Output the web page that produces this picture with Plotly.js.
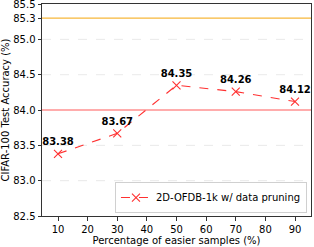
<!DOCTYPE html>
<html>
<head>
<meta charset="utf-8">
<script src="https://cdn.plot.ly/plotly-3.0.1.min.js"></script>
<style>html,body{margin:0;padding:0;background:#fff;}#chart{width:314px;height:247px;}</style>
</head>
<body>
<div id="chart"></div>
<script>
const percentages = [10, 30, 50, 70, 90];
const accuracy = [83.38, 83.67, 84.35, 84.26, 84.12];
const pointLabels = ['83.38', '83.67', '84.35', '84.26', '84.12'];
const seriesName = '2D-OFDB-1k w/ data pruning';
const yTickVals = [82.5, 83.0, 83.5, 84.0, 84.5, 85.0, 85.3, 85.5];
const yTickText = ['82.5', '83.0', '83.5', '84.0', '84.5', '85.0', '85.3', '85.5'];
const yGridVals = [83.0, 83.5, 84.5, 85.0];
const xTickVals = [10, 20, 30, 40, 50, 60, 70, 80, 90];
const refOrange = 85.3;
const refRed = 84.0;

const font = {family: 'DejaVu Sans, sans-serif', size: 10, color: '#000'};

const trace = {
  x: percentages, y: accuracy, name: seriesName,
  mode: 'lines+markers+text',
  text: pointLabels, textposition: 'top center',
  textfont: {family: 'DejaVu Sans, sans-serif', size: 10, color: '#000', weight: 'bold'},
  line: {color: '#ff3030', width: 1.1, dash: 'dash'},
  marker: {symbol: 'x-thin', size: 8, line: {color: '#ff3030', width: 1.1}, color: '#ff3030'},
  cliponaxis: false
};

const shapes = yGridVals.map(v => ({type: 'line', xref: 'paper', x0: 0, x1: 1, yref: 'y', y0: v, y1: v,
  line: {color: '#e3e3e3', width: 0.8, dash: 'dash'}, layer: 'below'}));
shapes.push({type: 'line', xref: 'paper', x0: 0, x1: 1, yref: 'y', y0: refOrange, y1: refOrange,
  line: {color: '#f7b73a', width: 1.2}, layer: 'below'});
shapes.push({type: 'line', xref: 'paper', x0: 0, x1: 1, yref: 'y', y0: refRed, y1: refRed,
  line: {color: '#ff5a5a', width: 1.2}, layer: 'below'});

const layout = {
  width: 314, height: 247,
  margin: {l: 42, r: 3, t: 4, b: 31},
  paper_bgcolor: '#fff', plot_bgcolor: '#fff',
  font: font,
  showlegend: true,
  legend: {x: 0.985, y: 0.014, xanchor: 'right', yanchor: 'bottom',
           bordercolor: '#d0d0d0', borderwidth: 1, bgcolor: '#fff',
           font: {family: 'DejaVu Sans, sans-serif', size: 10, color: '#000'}},
  xaxis: {range: [4.6, 95.4], tickvals: xTickVals, ticks: 'outside', ticklen: 3.5,
          tickcolor: '#333', showline: true, mirror: true, linecolor: '#333', linewidth: 1,
          showgrid: false, zeroline: false, tickfont: font,
          title: {text: 'Percentage of easier samples (%)', font: font, standoff: 3}},
  yaxis: {range: [82.5, 85.5005], tickvals: yTickVals, ticktext: yTickText, ticks: 'outside', ticklen: 3.5,
          tickcolor: '#333', showline: true, mirror: true, linecolor: '#333', linewidth: 1,
          showgrid: false, zeroline: false, tickfont: font, ticklabeloverflow: 'allow',
          title: {text: 'CIFAR-100 Test Accuracy (%)', font: font, standoff: 4}},
  shapes: shapes
};

Plotly.newPlot('chart', [trace], layout, {displayModeBar: false, staticPlot: true});
</script>
</body>
</html>
